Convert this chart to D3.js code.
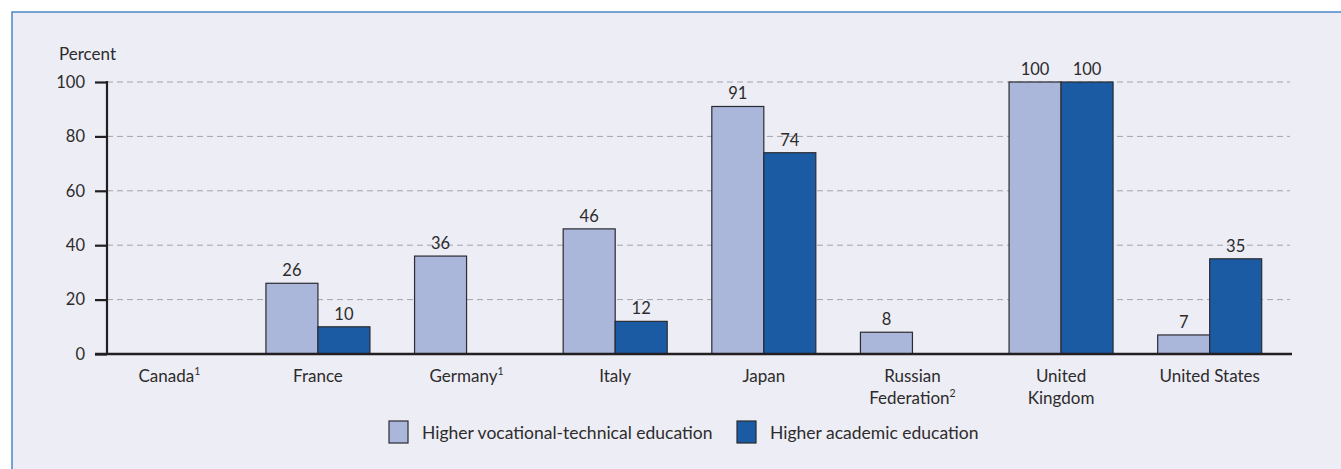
<!DOCTYPE html>
<html><head><meta charset="utf-8">
<script src="https://cdn.jsdelivr.net/npm/d3@7"></script>
<style>
html,body{margin:0;padding:0;background:#fff;}
svg{display:block;}
text{font-family:Lato,"Open Sans",sans-serif;fill:#2E2B2C;}
</style></head>
<body>
<script>
const categories = ["Canada", "France", "Germany", "Italy", "Japan", "Russian|Federation", "United|Kingdom", "United States"];
const footnotes = ["1", "", "1", "", "", "2", "", ""];
const seriesNames = ["Higher vocational-technical education", "Higher academic education"];
const vocational = [null, 26, 36, 46, 91, 8, 100, 7];
const academic = [null, 10, null, 12, 74, null, 100, 35];
const yTicks = [0, 20, 40, 60, 80, 100];
const colors = ["#AAB6DA", "#1B5BA4"];

const W = 1341, H = 469;
const svg = d3.select("body").append("svg").attr("width", W).attr("height", H);
svg.append("rect").attr("width", W).attr("height", H).attr("fill", "#fff");
svg.append("rect").attr("x", 12).attr("y", 12).attr("width", W + 10).attr("height", H + 10)
  .attr("fill", "#ECEDF5").attr("stroke", "#4A86C5").attr("stroke-width", 1.5);

const y = d3.scaleLinear().domain([0, 100]).range([354, 82]);
const x0 = d3.scaleBand().domain(categories).range([95, 1284]).padding(0);
const x1 = d3.scaleBand().domain([0, 1]).range([0, 104]);
const axisX = 107, axisEnd = 1292;

// gridlines
svg.append("g").selectAll("line").data(yTicks.filter(d => d > 0)).join("line")
  .attr("x1", axisX).attr("x2", 1290).attr("y1", d => y(d)).attr("y2", d => y(d))
  .attr("stroke", "#A4A4AC").attr("stroke-width", 1).attr("stroke-dasharray", "6,4");

// bars
const data = [];
categories.forEach((c, i) => {
  [vocational[i], academic[i]].forEach((v, s) => { if (v != null) data.push({c, s, v}); });
});
const bx = d => x0(d.c) + x0.bandwidth() / 2 - 52 + x1(d.s);
svg.append("g").selectAll("rect").data(data).join("rect")
  .attr("x", bx).attr("y", d => y(d.v)).attr("width", x1.bandwidth()).attr("height", d => y(0) - y(d.v))
  .attr("fill", d => colors[d.s]).attr("stroke", "#2B2B30").attr("stroke-width", 1.2);
svg.append("g").selectAll("text").data(data).join("text")
  .attr("x", d => bx(d) + x1.bandwidth() / 2).attr("y", d => y(d.v) - 7)
  .attr("text-anchor", "middle").attr("font-size", 16.5).text(d => d.v);

// y axis
const yAxis = d3.axisLeft(y).tickValues(yTicks).tickSize(12).tickPadding(10);
const gy = svg.append("g").attr("transform", `translate(${axisX},0)`).call(yAxis);
gy.select(".domain").remove();
gy.selectAll(".tick line").attr("stroke", "#231F20").attr("stroke-width", 2.2);
gy.selectAll(".tick text").attr("font-size", 16.5).attr("font-family", "Lato, sans-serif").attr("fill", "#2E2B2C");
svg.append("line").attr("x1", axisX).attr("x2", axisX).attr("y1", y(100) - 1).attr("y2", y(0))
  .attr("stroke", "#231F20").attr("stroke-width", 2.2);
svg.append("line").attr("x1", 95).attr("x2", axisEnd).attr("y1", y(0)).attr("y2", y(0))
  .attr("stroke", "#231F20").attr("stroke-width", 2.5);
svg.append("text").attr("x", 59).attr("y", 60).attr("font-size", 17).text("Percent");

// category labels
categories.forEach((c, i) => {
  const lines = c.split("|");
  const cx = x0(c) + x0.bandwidth() / 2;
  lines.forEach((ln, j) => {
    const t = svg.append("text").attr("x", cx).attr("y", 382 + j * 22)
      .attr("text-anchor", "middle").attr("font-size", 17);
    t.append("tspan").text(ln);
    if (j === lines.length - 1 && footnotes[i]) {
      t.append("tspan").attr("font-size", 10.5).attr("dy", -7).text(footnotes[i]);
    }
  });
});

// legend
const leg = [{x: 389, s: 0}, {x: 737, s: 1}];
leg.forEach(l => {
  svg.append("rect").attr("x", l.x).attr("y", 421).attr("width", 19).attr("height", 22)
    .attr("fill", colors[l.s]).attr("stroke", "#2B2B30").attr("stroke-width", 1.2);
  svg.append("text").attr("x", l.x + 33).attr("y", 439).attr("font-size", 17.5).text(seriesNames[l.s]);
});
</script>
</body></html>
